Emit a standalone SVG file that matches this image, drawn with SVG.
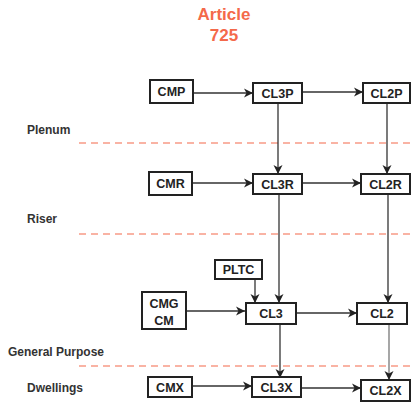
<svg xmlns="http://www.w3.org/2000/svg" width="411" height="404" viewBox="0 0 411 404">
<style>
.box{fill:#fff;stroke:#222;stroke-width:2}
.t{font-family:"Liberation Sans",Arial,sans-serif;font-weight:bold;font-size:12.5px;fill:#222;text-anchor:middle}
.lbl{font-family:"Liberation Sans",Arial,sans-serif;font-weight:bold;font-size:12px;fill:#333}
.title{font-family:"Liberation Sans",Arial,sans-serif;font-weight:bold;font-size:17px;fill:#f4694a;text-anchor:middle}
.c{fill:none;stroke:#333;stroke-width:1.3;marker-end:url(#ah)}
.dash{stroke:#f4694a;stroke-width:1.2;stroke-dasharray:7 5;fill:none}
</style>
<defs>
<marker id="ah" markerWidth="11" markerHeight="11" refX="10" refY="5.5" orient="auto" markerUnits="userSpaceOnUse">
<path d="M1,1 L10,5.5 L1,10 L3.5,5.5 Z" fill="#222"/>
</marker>
</defs>
<text class="title" x="224" y="20">Article</text>
<text class="title" x="224" y="41">725</text>
<text class="lbl" x="27" y="134">Plenum</text>
<text class="lbl" x="27" y="223">Riser</text>
<text class="lbl" x="8" y="356">General Purpose</text>
<text class="lbl" x="27" y="392">Dwellings</text>
<line class="dash" x1="79" y1="143" x2="411" y2="143"/>
<line class="dash" x1="79" y1="234" x2="411" y2="234"/>
<line class="dash" x1="79" y1="366" x2="411" y2="366"/>
<g id="connectors">
<path class="c" d="M193,93 L253,93"/>
<path class="c" d="M302,92 L363,92"/>
<path class="c" d="M278,103 L278,174"/>
<path class="c" d="M387,103 L387,174"/>
<path class="c" d="M192,183 L253,183"/>
<path class="c" d="M302,183 L361,183"/>
<path class="c" d="M279,194 L279,303"/>
<path class="c" d="M388,194 L388,303"/>
<path class="c" d="M255,278 L255,303"/>
<path class="c" d="M186,311 L245,311"/>
<path class="c" d="M296,313 L357,313"/>
<path class="c" d="M280,324 L280,378"/>
<path class="c" d="M389,324 L389,380" style="stroke:#777"/>
<path class="c" d="M192,386 L252,386"/>
<path class="c" d="M301,388 L361,388"/>
</g>
<g id="CMP"><rect class="box" x="150" y="80" width="43" height="23"/><text class="t" x="171.5" y="96">CMP</text></g>
<g id="CL3P"><rect class="box" x="253" y="83" width="49" height="20"/><text class="t" x="277.5" y="97.5">CL3P</text></g>
<g id="CL2P"><rect class="box" x="363" y="83" width="47" height="20"/><text class="t" x="386.5" y="97.5">CL2P</text></g>
<g id="CMR"><rect class="box" x="149" y="172" width="43" height="23"/><text class="t" x="170.5" y="187.5">CMR</text></g>
<g id="CL3R"><rect class="box" x="253" y="174" width="49" height="20"/><text class="t" x="277.5" y="188.5">CL3R</text></g>
<g id="CL2R"><rect class="box" x="361" y="174" width="49" height="20"/><text class="t" x="385.5" y="188.5">CL2R</text></g>
<g id="PLTC"><rect class="box" x="215" y="260" width="47" height="19"/><text class="t" x="238.5" y="274">PLTC</text></g>
<g id="CMG"><rect class="box" x="142" y="292" width="44" height="37"/><text class="t" x="164" y="308">CMG</text><text class="t" x="164" y="325">CM</text></g>
<g id="CL3"><rect class="box" x="246" y="303" width="50" height="21"/><text class="t" x="271" y="318">CL3</text></g>
<g id="CL2"><rect class="box" x="357" y="303" width="50" height="21"/><text class="t" x="382" y="318">CL2</text></g>
<g id="CMX"><rect class="box" x="148" y="377" width="44" height="20"/><text class="t" x="170" y="391.5">CMX</text></g>
<g id="CL3X"><rect class="box" x="252" y="377" width="49" height="20"/><text class="t" x="276.5" y="391.5">CL3X</text></g>
<g id="CL2X"><rect class="box" x="361" y="380" width="49" height="21"/><text class="t" x="385.5" y="395">CL2X</text></g>
</svg>
